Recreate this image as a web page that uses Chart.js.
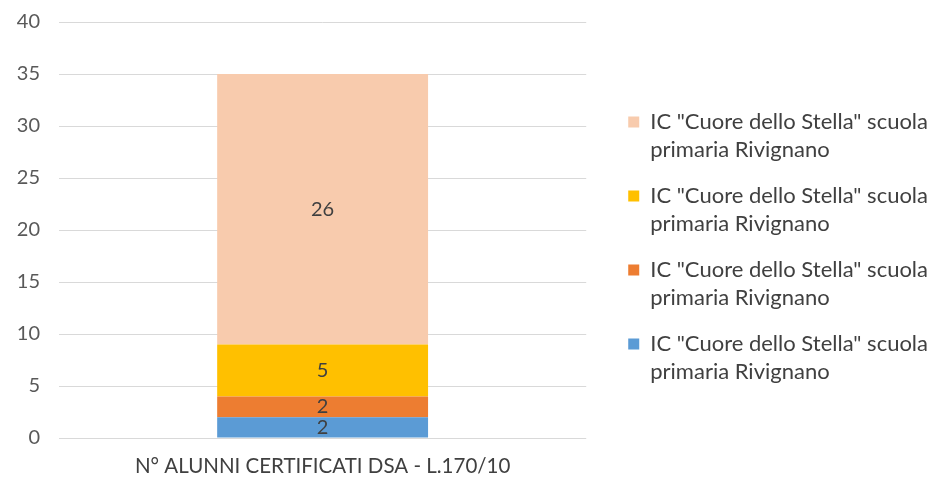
<!DOCTYPE html>
<html>
<head>
<meta charset="utf-8">
<script src="https://cdn.jsdelivr.net/npm/chart.js@4/dist/chart.umd.min.js"></script>
<style>
  body { margin: 0; background: #fff; }
</style>
</head>
<body>
<canvas id="dsaChart" width="936" height="480"></canvas>
<script>
// data
const categories = ["N° ALUNNI CERTIFICATI DSA - L.170/10"];
const legendLines = ['IC "Cuore dello Stella" scuola', "primaria Rivignano"];
const seriesNames = [
	legendLines.join(" "),
	legendLines.join(" "),
	legendLines.join(" "),
	legendLines.join(" "),
];
const blueValues = [2];
const orangeValues = [2];
const yellowValues = [5];
const peachValues = [26];
const seriesColors = ["#5B9BD5", "#ED7D31", "#FFC000", "#F8CBAD"];
const yMax = 40;
const yStep = 5;

const FONT = "Lato";

// writes the value in the middle of each stacked segment
const segmentLabels = {
	id: "segmentLabels",
	afterDatasetsDraw(chart) {
		const ctx = chart.ctx;
		ctx.save();
		ctx.font = "20px " + FONT;
		ctx.fillStyle = "#404040";
		ctx.textAlign = "center";
		ctx.textBaseline = "middle";
		chart.data.datasets.forEach((ds, i) => {
			chart.getDatasetMeta(i).data.forEach((bar, j) => {
				ctx.fillText(String(ds.data[j]), bar.x, (bar.y + bar.base) / 2);
			});
		});
		ctx.restore();
	},
};

const dataDsa = {
	labels: categories,
	datasets: [blueValues, orangeValues, yellowValues, peachValues].map((vals, i) => ({
		label: seriesNames[i],
		data: vals,
		backgroundColor: seriesColors[i],
		borderWidth: 0,
		barPercentage: 0.4,
		categoryPercentage: 1,
	})),
};

const configDsa = {
	type: "bar",
	data: dataDsa,
	plugins: [segmentLabels],
	options: {
		responsive: false,
		animation: false,
		layout: { padding: { top: 22, right: -2, bottom: 2, left: 0 } },
		scales: {
			x: {
				stacked: true,
				grid: { display: false, drawTicks: false },
				border: { display: false },
				ticks: { color: "#404040", font: { family: FONT, size: 20.5 }, padding: 16 },
				afterFit(scale) { scale.height = 40; },
			},
			y: {
				stacked: true,
				min: 0,
				max: yMax,
				grid: { color: "#D9D9D9", tickLength: 19, tickColor: "rgba(0,0,0,0)" },
				border: { display: false },
				ticks: { stepSize: yStep, color: "#595959", font: { family: FONT, size: 20 }, padding: 0 },
				afterFit(scale) { scale.width = 59; },
			},
			// empty axis that only keeps the gap between plot and legend
			gap: {
				type: "linear",
				position: "right",
				grid: { display: false, drawTicks: false },
				border: { display: false },
				ticks: { display: false },
				afterFit(scale) { scale.width = 24; },
			},
		},
		plugins: {
			tooltip: { enabled: false },
			legend: {
				position: "right",
				reverse: true,
				maxWidth: 400,
				labels: {
					boxWidth: 11,
					boxHeight: 11,
					padding: 18,
					color: "#404040",
					font: { family: FONT, size: 22, lineHeight: 28 / 22 },
					generateLabels(chart) {
						const items = Chart.defaults.plugins.legend.labels.generateLabels(chart);
						items.forEach((it) => { it.text = legendLines.slice(); it.lineWidth = 0; });
						return items;
					},
				},
			},
		},
	},
};

const ctxDsa = document.getElementById("dsaChart").getContext("2d");
new Chart(ctxDsa, configDsa);
</script>
</body>
</html>
